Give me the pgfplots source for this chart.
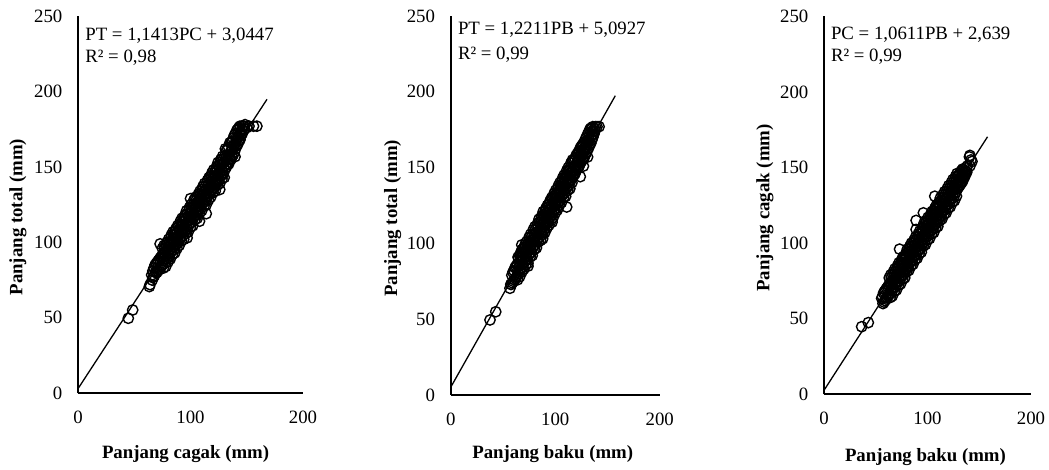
\documentclass[border=0pt]{standalone}
\usepackage{fontspec}
\setmainfont{Liberation Serif}
\usepackage{pgfplots}
\pgfplotsset{compat=1.18}
\newcommand{\fs}{\fontsize{9.4}{11}\selectfont}

\pgfplotsset{
  panel/.style={
    scale only axis, anchor=south west,
    xmin=0, xmax=200, ymin=0, ymax=250,
    axis x line=bottom, axis y line=left,
    axis line style={-, line width=0.9pt},
    xtick={0,100,200}, ytick={0,50,...,250},
    major tick length=0pt,
    tick label style={font=\fs},
    yticklabel style={xshift=-4.3pt},
    xticklabel style={yshift=-5.5pt},
    /pgf/number format/assume math mode=true,
    label style={font=\fs\bfseries},
    clip=false,
  },
  pts/.style={only marks, mark=o, mark size=2.6pt, mark options={line width=0.7pt, black}},
  fit/.style={black, line width=0.65pt, no marks},
}

\begin{document}
\begin{tikzpicture}
\useasboundingbox (0,0) rectangle (524.5pt,235pt);

% PT vs PC
\begin{axis}[panel, at={(39pt,38.35pt)}, width=112.5pt, height=188.65pt,
  xlabel={Panjang cagak (mm)}, ylabel={Panjang total (mm)},
  xlabel style={at={(axis description cs:0.478,-0.174)}, anchor=base},
  ylabel style={at={(axis description cs:-0.267,0.467)}, anchor=center}]
\addplot[pts] coordinates {
(44.7,49.7)(48.6,55.2)(63.4,70.7)(64,72)(65.5,78.4)(73,99)(97,103)(100,129)(108,114)(114,119)(126,135)(139.6,156.8)
(66,75)(66.5,81)(67,77)(67.5,83)(68,78)(68.5,85)(69,80)(69.5,86)(70,80)(70.5,87)
(71,81)(71.5,88)(72,82)(72.5,89)(73,83)(73.5,90)(74,84)(74.5,91)
(75,85)(75.5,90)(75,96)(76,83)(76.5,88)(76,93)(76.5,98)(77,86)(77.5,91)(77,96)
(78,84)(78.5,89)(78,94)(78.5,98)(79,89)(79.5,94)(79,100)(80,87)(80.5,92)(80,97)(80.5,102)
(81,90)(81.5,95)(81,100)(82,89)(82.5,94)(82,99)(82.5,103)(83,94)(83.5,99)(83,105)
(84,92)(84.5,97)(84,102)(84.5,107)(85,95)(85.5,100)(85,105)(86,93)(86.5,98)(86,103)(86.5,107)
(87,98)(87.5,103)(87,109)(88,96)(88.5,101)(88,106)(88.5,111)(89,100)(89.5,105)(89,110)
(90,98)(90.5,103)(90,108)(90.5,112)(91,103)(91.5,108)(91,114)(92,101)(92.5,106)(92,111)(92.5,116)
(93,104)(93.5,109)(93,114)(94,102)(94.5,107)(94,112)(94.5,116)(95,107)(95.5,112)(95,118)
(96,106)(96.5,111)(96,116)(96.5,121)(97,109)(97.5,114)(97,119)(98,107)(98.5,112)(98,117)(98.5,121)
(99,112)(99.5,117)(99,123)(100,110)(100.5,115)(100,120)(100.5,125)(101,113)(101.5,118)(101,123)
(102,111)(102.5,116)(102,121)(102.5,125)(103,117)(103.5,122)(103,128)(104,115)(104.5,120)(104,125)(104.5,130)
(105,118)(105.5,123)(105,128)(106,116)(106.5,121)(106,126)(106.5,130)(107,121)(107.5,126)(107,132)
(108,119)(108.5,124)(108,129)(108.5,134)(109,122)(109.5,127)(109,132)(110,121)(110.5,126)(110,131)(110.5,135)
(111,126)(111.5,131)(111,137)(112,124)(112.5,129)(112,134)(112.5,139)(113,127)(113.5,132)(113,137)
(114,125)(114.5,130)(114,135)(114.5,139)(115,130)(115.5,135)(115,141)(116,128)(116.5,133)(116,138)(116.5,143)
(117,132)(117.5,137)(117,142)(118,130)(118.5,135)(118,140)(118.5,144)(119,135)(119.5,140)(119,146)
(120,133)(120.5,138)(120,143)(120.5,148)(121,136)(121.5,141)(121,146)(122,134)(122.5,139)(122,144)(122.5,148)
(123,139)(123.5,144)(123,150)(124,138)(124.5,143)(124,148)(124.5,153)(125,141)(125.5,146)(125,151)
(126,139)(126.5,144)(126,149)(126.5,153)(127,144)(127.5,149)(127,155)(128,142)(128.5,147)(128,152)(128.5,157)
(129,145)(129.5,150)(129,155)(130,143)(130.5,148)(130,153)(130.5,157)
(131,151)(131.5,156)(131,162)(132,150)(132.5,155)(132,161)(133,152)(133.5,157)(133,162)
(134,152)(134.5,158)(134,163)(135,155)(135.5,160)(135,166)(136,155)(136.5,161)(136,166)
(137,157)(137.5,162)(137,167)(138,158)(138.5,164)(138,169)(139,160)(139.5,165)(139,171)
(140,162)(140.5,167)(140,172)(141,164)(141.5,169)(141,174)(142,165)(142.5,170)(142,175)
(143,167)(143.5,172)(143,176)(144,168)(144.5,173)(144,177)(145,171)(145.5,175)(146,172)(146.5,177)
(147,174)(147.5,177)(148,175)(148.5,178)(150,176)(152,177)(156,177)(159,177)
};
\addplot[fit] coordinates {(0,3.0447)(168,194.8)};
\node[anchor=base west, font=\fs, inner sep=0pt] at (axis description cs:0.031,0.936) {PT = 1,1413PC + 3,0447};
\node[anchor=base west, font=\fs, inner sep=0pt] at (axis description cs:0.031,0.876) {R² = 0,98};
\end{axis}

% PT vs PB
\begin{axis}[panel, at={(225.35pt,37.5pt)}, width=104.5pt, height=189.5pt,
  xlabel={Panjang baku (mm)}, ylabel={Panjang total (mm)},
  xlabel style={at={(axis description cs:0.488,-0.167)}, anchor=base},
  ylabel style={at={(axis description cs:-0.278,0.466)}, anchor=center}]
\addplot[pts] coordinates {
(37.6,49.5)(43.1,54.9)(56.7,70.4)(57.5,73)(68,99)(74,85)(88,103)(97,114)(111,124)(124,144)(127,151)(131,157)(123.7,160.5)
(58,73)(58.5,79)(59,74)(59.5,81)(60,75)(60.5,82)(61,76)(61.5,84)(62,77)(62.5,85)(63,78)(63.5,86)
(64,76)(64.5,81)(64,86)(64.5,91)(65,80)(65.5,85)(65,90)(66,78)(66.5,83)(66,88)(66.5,92)
(67,83)(67.5,88)(67,94)(68,81)(68.5,86)(68,91)(68.5,96)(69,84)(69.5,89)(69,94)
(70,83)(70.5,88)(70,93)(70.5,97)(71,88)(71.5,93)(71,99)(72,86)(72.5,91)(72,96)(72.5,101)
(73,89)(73.5,94)(73,99)(74,87)(74.5,92)(74,97)(74.5,101)(75,93)(75.5,98)(75,104)
(76,91)(76.5,96)(76,101)(76.5,106)(77,94)(77.5,99)(77,104)(78,92)(78.5,97)(78,102)(78.5,106)
(79,98)(79.5,103)(79,109)(80,96)(80.5,101)(80,106)(80.5,111)(81,99)(81.5,104)(81,109)
(82,97)(82.5,102)(82,107)(82.5,111)(83,102)(83.5,107)(83,113)(84,101)(84.5,106)(84,111)(84.5,116)
(85,104)(85.5,109)(85,114)(86,102)(86.5,107)(86,112)(86.5,116)(87,107)(87.5,112)(87,118)
(88,106)(88.5,111)(88,116)(88.5,121)(89,109)(89.5,114)(89,119)(90,107)(90.5,112)(90,117)(90.5,121)
(91,112)(91.5,117)(91,123)(92,110)(92.5,115)(92,120)(92.5,125)(93,114)(93.5,119)(93,124)
(94,112)(94.5,117)(94,122)(94.5,126)(95,117)(95.5,122)(95,128)(96,115)(96.5,120)(96,125)(96.5,130)
(97,119)(97.5,124)(97,129)(98,117)(98.5,122)(98,127)(98.5,131)(99,122)(99.5,127)(99,133)
(100,120)(100.5,125)(100,130)(100.5,135)(101,123)(101.5,128)(101,133)(102,122)(102.5,127)(102,132)(102.5,136)
(103,127)(103.5,132)(103,138)(104,125)(104.5,130)(104,135)(104.5,140)(105,128)(105.5,133)(105,138)
(106,127)(106.5,132)(106,137)(106.5,141)(107,132)(107.5,137)(107,143)(108,130)(108.5,135)(108,140)(108.5,145)
(109,133)(109.5,138)(109,143)(110,131)(110.5,136)(110,141)(110.5,145)(111,137)(111.5,142)(111,148)
(112,135)(112.5,140)(112,145)(112.5,150)(113,138)(113.5,143)(113,148)(114,136)(114.5,141)(114,146)(114.5,150)
(115,142)(115.5,147)(115,153)(116,140)(116.5,145)(116,150)(116.5,155)
(117,144)(117.5,149)(117,154)(118,145)(118.5,150)(118,155)(119,146)(119.5,151)(119,156)
(120,148)(120.5,153)(120,158)(121,149)(121.5,154)(121,159)(122,150)(122.5,155)(122,160)
(123,151)(123.5,156)(123,161)(124,153)(124.5,158)(124,163)(125,154)(125.5,159)(125,164)
(126,155)(126.5,160)(126,165)(127,156)(127.5,161)(127,166)(128,157)(128.5,162)(128,167)
(129,159)(129.5,164)(129,169)(130,160)(130.5,165)(130,170)(131,162)(131.5,167)(131,172)
(132,163)(132.5,168)(132,173)(133,165)(133.5,170)(133,175)(134,166)(134.5,171)(134,176)
(135,168)(135.5,172)(135,176)(136,170)(136.5,174)(136,177)(137,172)(137.5,176)(138,174)(138.5,177)
(140,177)(142,177)
};
\addplot[fit] coordinates {(0,5.0927)(157.5,197.4)};
\node[anchor=base west, font=\fs, inner sep=0pt] at (axis description cs:0.033,0.950) {PT = 1,2211PB + 5,0927};
\node[anchor=base west, font=\fs, inner sep=0pt] at (axis description cs:0.033,0.884) {R² = 0,99};
\end{axis}

% PC vs PB
\begin{axis}[panel, at={(412pt,37.85pt)}, width=103.5pt, height=189pt,
  xlabel={Panjang baku (mm)}, ylabel={Panjang cagak (mm)},
  xlabel style={at={(axis description cs:0.49,-0.178)}, anchor=base},
  ylabel style={at={(axis description cs:-0.285,0.493)}, anchor=center}]
\addplot[pts] coordinates {
(36.4,44.7)(42.8,47.4)(55.7,63.5)(56.5,64.5)(73,96)(89,109)(89,115)(96,120)(107,131)
(57,60)(57.5,67)(58,61)(58.5,68)(59,62)(59.5,69)(60,63)(60.5,70)(61,64)(61.5,71)(62,65)(62.5,72)
(63,66)(63.5,71)(63,77)(64,64)(64.5,69)(64,74)(64.5,79)(65,67)(65.5,72)(65,77)
(66,65)(66.5,70)(66,75)(66.5,79)(67,70)(67.5,75)(67,81)(68,68)(68.5,73)(68,78)(68.5,83)
(69,71)(69.5,76)(69,81)(70,69)(70.5,74)(70,79)(70.5,83)(71,74)(71.5,79)(71,85)
(72,72)(72.5,77)(72,82)(72.5,87)(73,75)(73.5,80)(73,85)(74,73)(74.5,78)(74,83)(74.5,87)
(75,78)(75.5,83)(75,89)(76,76)(76.5,81)(76,86)(76.5,91)(77,79)(77.5,84)(77,89)
(78,77)(78.5,82)(78,87)(78.5,91)(79,82)(79.5,87)(79,93)(80,81)(80.5,86)(80,91)(80.5,96)
(81,84)(81.5,89)(81,94)(82,82)(82.5,87)(82,92)(82.5,96)(83,87)(83.5,92)(83,98)
(84,85)(84.5,90)(84,95)(84.5,100)(85,88)(85.5,93)(85,98)(86,86)(86.5,91)(86,96)(86.5,100)
(87,91)(87.5,96)(87,102)(88,89)(88.5,94)(88,99)(88.5,104)(89,92)(89.5,97)(89,102)
(90,90)(90.5,95)(90,100)(90.5,104)(91,95)(91.5,100)(91,106)(92,93)(92.5,98)(92,103)(92.5,108)
(93,96)(93.5,101)(93,106)(94,94)(94.5,99)(94,104)(94.5,108)(95,99)(95.5,104)(95,110)
(96,98)(96.5,103)(96,108)(96.5,113)(97,101)(97.5,106)(97,111)(98,99)(98.5,104)(98,109)(98.5,113)
(99,104)(99.5,109)(99,115)(100,102)(100.5,107)(100,112)(100.5,117)(101,105)(101.5,110)(101,115)
(102,103)(102.5,108)(102,113)(102.5,117)(103,108)(103.5,113)(103,119)(104,106)(104.5,111)(104,116)(104.5,121)
(105,109)(105.5,114)(105,119)(106,107)(106.5,112)(106,117)(106.5,121)(107,112)(107.5,117)(107,123)
(108,110)(108.5,115)(108,120)(108.5,125)(109,113)(109.5,118)(109,123)(110,111)(110.5,116)(110,121)(110.5,125)
(111,116)(111.5,121)(111,127)(112,115)(112.5,120)(112,125)(112.5,130)(113,118)(113.5,123)(113,128)
(114,116)(114.5,121)(114,126)(114.5,130)(115,121)(115.5,126)(115,132)(116,119)(116.5,124)(116,129)(116.5,134)
(117,122)(117.5,127)(117,132)(118,120)(118.5,125)(118,130)(118.5,134)(119,125)(119.5,130)(119,136)
(120,123)(120.5,128)(120,133)(120.5,138)(121,126)(121.5,131)(121,136)(122,124)(122.5,129)(122,134)(122.5,138)
(123,129)(123.5,134)(123,140)(124,127)(124.5,132)(124,137)(124.5,142)(125,130)(125.5,135)(125,140)
(126,128)(126.5,133)(126,138)(126.5,142)(127,133)(127.5,138)(127,144)(128,131)(128.5,136)(128,141)(128.5,146)
(129,136)(129.5,140)(129,144)(130,137)(130.5,141)(130,145)(131,138)(131.5,142)(131,146)
(132,139)(132.5,143)(132,147)(133,140)(133.5,144)(133,148)(134,141)(134.5,145)(134,149)
(135,143)(135.5,147)(136,144)(136.5,148)(137,146)(137.5,150)(138,147)(138.5,151)
(141,151)(142,155)(141,158)(143,154)(140.5,157)
};
\addplot[fit] coordinates {(0,2.639)(158,170.3)};
\node[anchor=base west, font=\fs, inner sep=0pt] at (axis description cs:0.032,0.939) {PC = 1,0611PB + 2,639};
\node[anchor=base west, font=\fs, inner sep=0pt] at (axis description cs:0.032,0.880) {R² = 0,99};
\end{axis}
\end{tikzpicture}
\end{document}
